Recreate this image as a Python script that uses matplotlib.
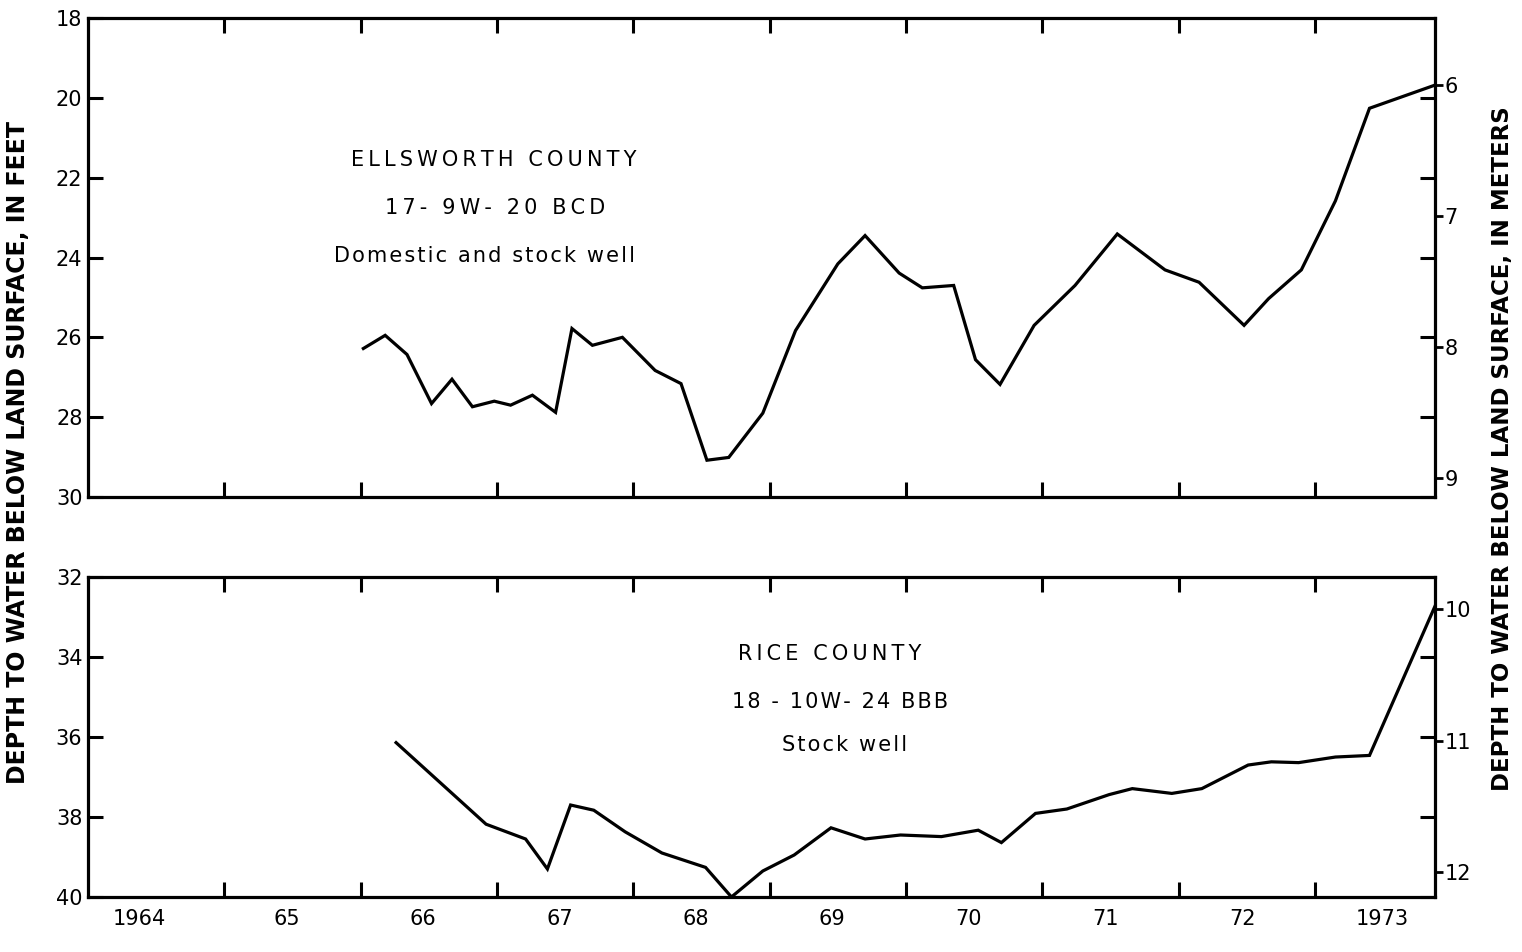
import matplotlib.pyplot as plt

FT_TO_M = 0.3048

# Ellsworth County, 17-9W-20BCD (decimal year, depth in feet)
ells_year = [1966.02, 1966.18, 1966.34, 1966.52, 1966.67, 1966.82, 1966.98, 1967.10,
             1967.26, 1967.43, 1967.55, 1967.70, 1967.92, 1968.16, 1968.35, 1968.54,
             1968.70, 1968.95, 1969.19, 1969.50, 1969.70, 1969.95, 1970.12, 1970.35,
             1970.51, 1970.69, 1970.94, 1971.24, 1971.55, 1971.90, 1972.15, 1972.48,
             1972.66, 1972.90, 1973.15, 1973.40, 1973.88]
ells_depth = [26.28, 25.95, 26.43, 27.66, 27.05, 27.74, 27.60, 27.70,
              27.45, 27.88, 25.78, 26.20, 26.00, 26.83, 27.16, 29.08,
              29.01, 27.90, 25.83, 24.16, 23.45, 24.39, 24.76, 24.70,
              26.56, 27.18, 25.70, 24.70, 23.41, 24.31, 24.62, 25.70,
              25.03, 24.31, 22.58, 20.26, 19.68]

# Rice County, 18-10W-24BBB
rice_year = [1966.26, 1966.92, 1967.21, 1967.37, 1967.54, 1967.71, 1967.94, 1968.21,
             1968.53, 1968.72, 1968.95, 1969.18, 1969.45, 1969.70, 1969.96, 1970.26,
             1970.53, 1970.70, 1970.95, 1971.18, 1971.49, 1971.66, 1971.95, 1972.17,
             1972.51, 1972.68, 1972.88, 1973.15, 1973.40, 1973.88]
rice_depth = [36.14, 38.18, 38.55, 39.30, 37.70, 37.83, 38.37, 38.90,
              39.26, 40.00, 39.35, 38.95, 38.27, 38.55, 38.45, 38.49,
              38.33, 38.64, 37.91, 37.80, 37.44, 37.29, 37.41, 37.29,
              36.70, 36.62, 36.64, 36.50, 36.46, 32.73]

year_ticks = [1965, 1966, 1967, 1968, 1969, 1970, 1971, 1972, 1973]
year_labels = ['1964', '65', '66', '67', '68', '69', '70', '71', '72', '1973']
label_pos = [1964.38, 1965.46, 1966.46, 1967.46, 1968.46, 1969.46, 1970.46,
             1971.46, 1972.47, 1973.49]

top_ft_ticks = [18, 20, 22, 24, 26, 28, 30]
top_m_ticks = [6, 7, 8, 9]
bot_ft_ticks = [32, 34, 36, 38, 40]
bot_m_ticks = [10, 11, 12]


def spaced(s, gap='\u2009'):
    # crude letter spacing, the lettering on the original is spread out
    return gap.join(s)


fig = plt.figure(figsize=(15.22, 9.52), dpi=100)
ax1 = fig.add_axes([0.0578, 0.478, 0.885, 0.503])
ax2 = fig.add_axes([0.0578, 0.0578, 0.885, 0.336])


def setup_panel(ax, x, y, ylim, ft_ticks, m_ticks):
    ax.plot(x, y, color='black', lw=2.3, solid_joinstyle='miter')
    ax.set_xlim(1964, 1973.88)
    ax.set_ylim(ylim[1], ylim[0])
    for s in ax.spines.values():
        s.set_linewidth(2.3)
    ax.set_xticks(year_ticks)
    ax.set_xticklabels([])
    ax.tick_params(axis='x', which='major', direction='in', top=True, bottom=True,
                   length=11, width=2.2)
    ax.set_yticks(ft_ticks)
    ax.set_yticklabels([str(t) for t in ft_ticks], fontsize=15)

    tw = ax.twinx()
    tw.set_ylim(ylim[1] * FT_TO_M, ylim[0] * FT_TO_M)
    tw.set_yticks(m_ticks)
    tw.set_yticklabels([str(t) for t in m_ticks], fontsize=15)
    tw.tick_params(axis='y', direction='out', length=6, width=2, pad=1)
    for s in tw.spines.values():
        s.set_visible(False)

    # twinx resets the right ticks of the parent, so set them here
    ax.tick_params(axis='y', direction='in', left=True, right=True,
                   length=11, width=2.2, pad=4)
    return tw


setup_panel(ax1, ells_year, ells_depth, (18, 30), top_ft_ticks, top_m_ticks)
setup_panel(ax2, rice_year, rice_depth, (32, 40), bot_ft_ticks, bot_m_ticks)

ax2.set_xticks(label_pos, minor=True)
ax2.set_xticklabels(year_labels, minor=True, fontsize=15)
ax2.tick_params(axis='x', which='minor', length=0, pad=9)

ax1.text(1966.98, 21.55, spaced('ELLSWORTH COUNTY'), ha='center', va='center', fontsize=15)
ax1.text(1966.99, 22.75, spaced('17- 9W- 20 BCD'), ha='center', va='center', fontsize=15)
ax1.text(1966.91, 23.95, spaced('Domestic and stock well', '\u200a'), ha='center', va='center', fontsize=15)

ax2.text(1969.44, 33.92, spaced('RICE COUNTY'), ha='center', va='center', fontsize=15)
ax2.text(1969.52, 35.12, spaced('18 - 10W- 24 BBB', '\u200a'), ha='center', va='center', fontsize=15)
ax2.text(1969.55, 36.19, spaced('Stock well', '\u200a'), ha='center', va='center', fontsize=15)

fig.text(18 / 1522, 1 - 452 / 952, 'DEPTH TO WATER BELOW LAND SURFACE, IN FEET',
         rotation=90, ha='center', va='center', fontsize=17, fontweight='bold')
fig.text(1503 / 1522, 1 - 449 / 952, 'DEPTH TO WATER BELOW LAND SURFACE, IN METERS',
         rotation=90, ha='center', va='center', fontsize=16.5, fontweight='bold')

fig.savefig('out.png', dpi=100)
